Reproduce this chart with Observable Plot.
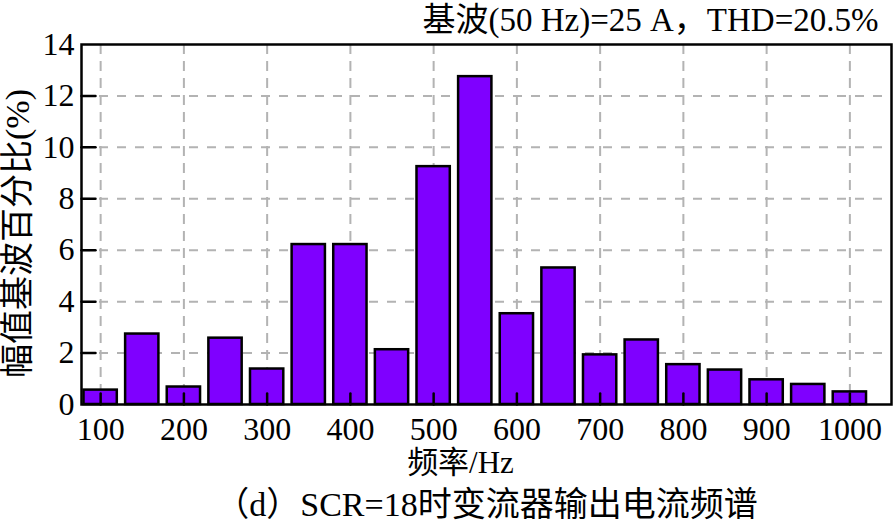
<!DOCTYPE html>
<html>
<head>
<meta charset="utf-8">
<script src="https://cdn.jsdelivr.net/npm/d3@7"></script>
<script src="https://cdn.jsdelivr.net/npm/@observablehq/plot@0.6"></script>
<style>
  html, body { margin: 0; padding: 0; background: #fff; }
  #chart svg { display: block; }
</style>
</head>
<body>
<div id="chart"></div>
<script>
// Data
const frequencies = [100, 150, 200, 250, 300, 350, 400, 450, 500, 550, 600, 650, 700, 750, 800, 850, 900, 950, 1000];
const ratios = [0.56, 2.74, 0.68, 2.58, 1.38, 6.22, 6.22, 2.13, 9.25, 12.75, 3.53, 5.31, 1.93, 2.51, 1.55, 1.34, 0.96, 0.78, 0.49];
const xTicks = [100, 200, 300, 400, 500, 600, 700, 800, 900, 1000];
const yTicks = [0, 2, 4, 6, 8, 10, 12, 14];
const barHalfWidth = 20;

const annotation = "基波(50 Hz)=25 A，THD=20.5%";
const xLabel = "频率/Hz";
const yLabel = "幅值基波百分比(%)";
const caption = "（d）SCR=18时变流器输出电流频谱";

const data = frequencies.map((f, i) => ({f, v: ratios[i]}));

const font = "'Liberation Serif', 'Times New Roman', 'Noto Sans CJK SC', serif";

// a plain tick line as a vector shape
const tickShape = {
  draw(context, l) {
    context.moveTo(0, 0);
    context.lineTo(0, -l);
  }
};

const chart = Plot.plot({
  width: 894,
  height: 526,
  marginLeft: 81,
  marginRight: 3,
  marginTop: 44,
  marginBottom: 122,
  style: {fontFamily: font, fontSize: "32px", color: "#000", background: "#fff"},
  x: {type: "linear", domain: [77, 1050]},
  y: {domain: [0, 14]},
  marks: [
    Plot.gridX(xTicks, {stroke: "#b3b3b3", strokeOpacity: 1, strokeWidth: 2, strokeDasharray: "10,7"}),
    Plot.gridY(yTicks.slice(1, -1), {stroke: "#b3b3b3", strokeOpacity: 1, strokeWidth: 2, strokeDasharray: "9,9"}),
    Plot.rectY(data, {x1: d => d.f - barHalfWidth, x2: d => d.f + barHalfWidth, y: "v", fill: "#7f00ff", stroke: "#000", strokeWidth: 2.5}),
    Plot.axisX(xTicks, {anchor: "bottom", tickSize: 0, tickPadding: 13, fontSize: 32, label: null, tickFormat: d => String(d)}),
    Plot.axisY(yTicks, {anchor: "left", tickSize: 0, tickPadding: 7, fontSize: 32, label: null, tickFormat: d => String(d)}),
    Plot.vector(xTicks, {x: d => d, frameAnchor: "bottom", length: 11, rotate: 0, anchor: "start", shape: tickShape, stroke: "#000", strokeWidth: 2.5}),
    Plot.vector(yTicks.slice(1, -1), {y: d => d, frameAnchor: "left", length: 14, rotate: 90, anchor: "start", shape: tickShape, stroke: "#000", strokeWidth: 2.5}),
    Plot.frame({stroke: "#000", strokeWidth: 2.5}),
    Plot.text([annotation], {frameAnchor: "top-right", textAnchor: "end", lineAnchor: "middle", dx: -13, dy: -24, fontSize: 33}),
    Plot.text([xLabel], {frameAnchor: "bottom", textAnchor: "middle", lineAnchor: "middle", dx: -26, dy: 59, fontSize: 31}),
    Plot.text([caption], {frameAnchor: "bottom", textAnchor: "middle", lineAnchor: "middle", dx: 0, dy: 101, fontSize: 34}),
    Plot.text([yLabel], {frameAnchor: "left", textAnchor: "middle", lineAnchor: "middle", rotate: -90, dx: -63, dy: 9, fontSize: 34})
  ]
});
document.getElementById("chart").append(chart);
</script>
</body>
</html>
